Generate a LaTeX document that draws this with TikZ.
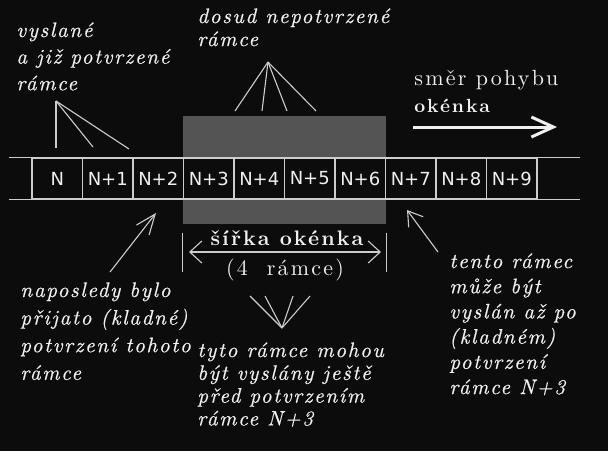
\documentclass[tikz,border=0pt]{standalone}
\usepackage{fontspec}
\usetikzlibrary{arrows.meta, positioning, backgrounds}
\newfontfamily\notefont{lmroman10-italic.otf}[LetterSpace=8, FakeBold=0.6]
\newfontfamily\headfont{lmroman10-regular.otf}[LetterSpace=10, BoldFont=lmroman10-bold.otf]
\newfontfamily\cellfont{DejaVu Sans}
\definecolor{bgcol}{RGB}{12,12,12}
\definecolor{inkcol}{RGB}{240,240,240}
\definecolor{rulecol}{RGB}{205,205,205}
\definecolor{shadecol}{RGB}{84,84,84}
\tikzset{
  framebox/.style={rectangle, draw=rulecol, fill=bgcol, line width=0.6pt,
                   minimum width=25.25pt, minimum height=20.5pt, inner sep=0pt,
                   font=\cellfont\fontsize{9}{11}\selectfont, text=inkcol},
  note/.style={align=left, inner sep=0pt, text=inkcol, anchor=north west,
               font=\notefont\fontsize{10.5}{#1}\selectfont},
  headtext/.style={inner sep=0pt, text=inkcol, font=\headfont\fontsize{#1}{#1}\selectfont},
  rule/.style={draw=rulecol, line width=0.55pt},
}

\begin{document}
\begin{tikzpicture}[x=0.5pt, y=-0.5pt]
  % frames of the window
  \foreach \lab [count=\i from 0] in {N,N+1,N+2,N+3,N+4,N+5,N+6,N+7,N+8,N+9}
    \node[framebox] (f\i) at ({57.25+50.5*\i},178.5) {\lab};
  \draw[rule] (f0.north west) -- ++(-22,0);
  \draw[rule] (f0.south west) -- ++(-22,0);
  \draw[rule] (f9.north east) -- ++(42,0);
  \draw[rule] (f9.south east) -- ++(42,0);

  \begin{scope}[on background layer]
    \fill[bgcol] (0,0) rectangle (608,451);
    \fill[shadecol] ([yshift=20.5pt]f3.north west) rectangle ([yshift=-12pt]f6.south east);
  \end{scope}

  % notes
  \node[note=13.3pt] (sent) at (16,22) {vyslané\\a již potvrzené\\rámce};
  \node[note=11.5pt] (pending) at (197,8) {dosud nepotvrzené\\rámce};
  \node[note=13.8pt] (lastack) at (20,282)
    {naposledy bylo\\přijato (kladné)\\potvrzení tohoto\\rámce};
  \node[note=11.4pt] (sendable) at (197,342)
    {tyto rámce mohou\\být vyslány ještě\\před potvrzením\\rámce N+3};
  \node[note=12.6pt] (nextframe) at (449,253)
    {tento rámec\\může být\\vyslán až po\\(kladném)\\potvrzení\\rámce N+3};

  % direction of movement
  \node[headtext=11pt, anchor=base west] (dirname) at (414,85) {směr pohybu};
  \node[headtext=10pt, anchor=base west, font=\headfont\bfseries\fontsize{9.5}{9.5}\selectfont]
    (dirword) at (414,112) {okénka};
  \coordinate (dirstart) at (413,127);
  \coordinate (dirend) at (557,127);
  \draw[draw=inkcol, line width=1.5pt, -{Straight Barb[length=11pt, width=10pt]}]
    (dirstart) -- (dirend);

  % window width
  \draw[rule] (f3.south west) ++(0,33) -- ++(0,39);
  \draw[rule] (f6.south east) ++(0,33) -- ++(0,39);
  \coordinate (wleft) at (189,252);
  \coordinate (wright) at (381,252);
  \draw[rule, {Straight Barb[length=6pt, width=11pt]}-{Straight Barb[length=6pt, width=11pt]}]
    (wleft) -- (wright);
  \node[headtext=10.5pt, anchor=base, font=\headfont\bfseries\fontsize{10.5}{10.5}\selectfont]
    (wname) at (287,245) {šířka okénka};
  \node[headtext=11pt, anchor=base] (wcount) at (285,275) {(4\ \ rámce)};

  % fans
  \coordinate (sentapex) at (56,101);
  \foreach \ex/\ey [count=\k] in {56/148, 93/147, 129/149} {
    \coordinate (sentend\k) at (\ex,\ey);
    \draw[rule] (sentapex) -- (sentend\k);
  }
  \coordinate (pendapex) at (268,62);
  \foreach \ex [count=\k] in {235,262,287,316} {
    \coordinate (pendend\k) at (\ex,111);
    \draw[rule] (pendapex) -- (pendend\k);
  }
  \coordinate (sendapex) at (282,328);
  \foreach \ex [count=\k] in {250,265,293,310} {
    \coordinate (sendend\k) at (\ex,296);
    \draw[rule] (sendapex) -- (sendend\k);
  }

  % pointers
  \coordinate (acktail) at (110,272);
  \coordinate (acktip) at (156,213);
  \draw[rule, -{Straight Barb[length=10pt, width=8pt]}] (acktail) -- (acktip);
  \coordinate (nexttail) at (438,252);
  \coordinate (nexttip) at (407,210);
  \draw[rule, -{Straight Barb[length=7pt, width=9pt]}] (nexttail) -- (nexttip);
\end{tikzpicture}
\end{document}
